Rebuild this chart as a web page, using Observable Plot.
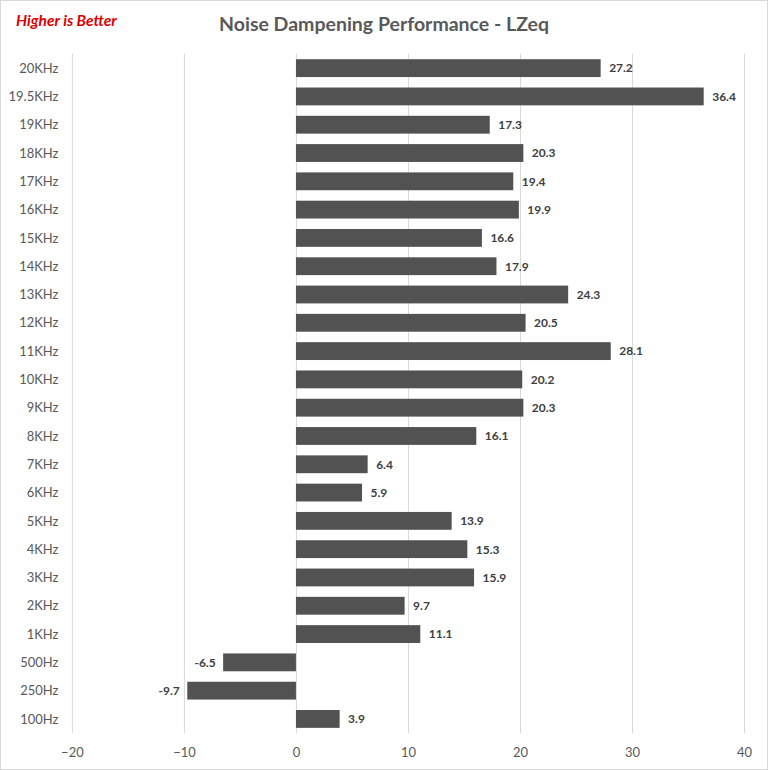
<!DOCTYPE html>
<html>
<head>
<meta charset="utf-8">
<script src="https://cdn.jsdelivr.net/npm/d3@7"></script>
<script src="https://cdn.jsdelivr.net/npm/@observablehq/plot@0.6"></script>
<style>
  html, body { margin: 0; padding: 0; background: #fff; }
  #wrap { position: relative; width: 768px; height: 770px; box-sizing: border-box; border: 1px solid #d9d9d9; background: #fff; overflow: hidden; font-family: Lato, "Open Sans", sans-serif; }
  #note { position: absolute; left: 15px; top: 10px; color: #e00000; font-weight: bold; font-style: italic; font-size: 15.5px; }
  #title { position: absolute; left: 0; width: 766px; top: 11px; text-align: center; color: #595959; font-weight: bold; font-size: 19.5px; }
  #chart { position: absolute; left: -1px; top: 39px; }
</style>
</head>
<body>
<div id="wrap">
  <div id="note">Higher is Better</div>
  <div id="title">Noise Dampening Performance - LZeq</div>
  <div id="chart"></div>
</div>
<script>
const categories = ["20KHz","19.5KHz","19KHz","18KHz","17KHz","16KHz","15KHz","14KHz","13KHz","12KHz","11KHz","10KHz","9KHz","8KHz","7KHz","6KHz","5KHz","4KHz","3KHz","2KHz","1KHz","500Hz","250Hz","100Hz"];
const values = [27.2,36.4,17.3,20.3,19.4,19.9,16.6,17.9,24.3,20.5,28.1,20.2,20.3,16.1,6.4,5.9,13.9,15.3,15.9,9.7,11.1,-6.5,-9.7,3.9];
const xTicks = [-20,-10,0,10,20,30,40];

const data = categories.map((c, i) => ({cat: c, v: values[i]}));

const chart = Plot.plot({
  width: 768,
  height: 731,
  marginLeft: 72,
  marginRight: 23,
  marginTop: 14,
  marginBottom: 37,
  style: {fontFamily: "Lato, 'Open Sans', sans-serif", fontSize: "13px", color: "#595959", background: "transparent"},
  x: {domain: [-20, 40], ticks: xTicks, tickSize: 0, tickPadding: 14, label: null},
  y: {domain: categories, paddingInner: 0.37, paddingOuter: 0.185, round: false, tickSize: 0, tickPadding: 14, label: null},
  marks: [
    Plot.ruleX(xTicks, {stroke: "#d9d9d9", strokeWidth: 1}),
    Plot.barX(data, {x: "v", y: "cat", fill: "#525252"}),
    Plot.text(data.filter(d => d.v >= 0), {x: "v", y: "cat", text: d => d.v.toFixed(1), dx: 8, textAnchor: "start", fill: "#404040", fontWeight: "bold", fontSize: 12}),
    Plot.text(data.filter(d => d.v < 0), {x: "v", y: "cat", text: d => d.v.toFixed(1), dx: -8, textAnchor: "end", fill: "#404040", fontWeight: "bold", fontSize: 12})
  ]
});
document.getElementById("chart").appendChild(chart);
</script>
</body>
</html>
